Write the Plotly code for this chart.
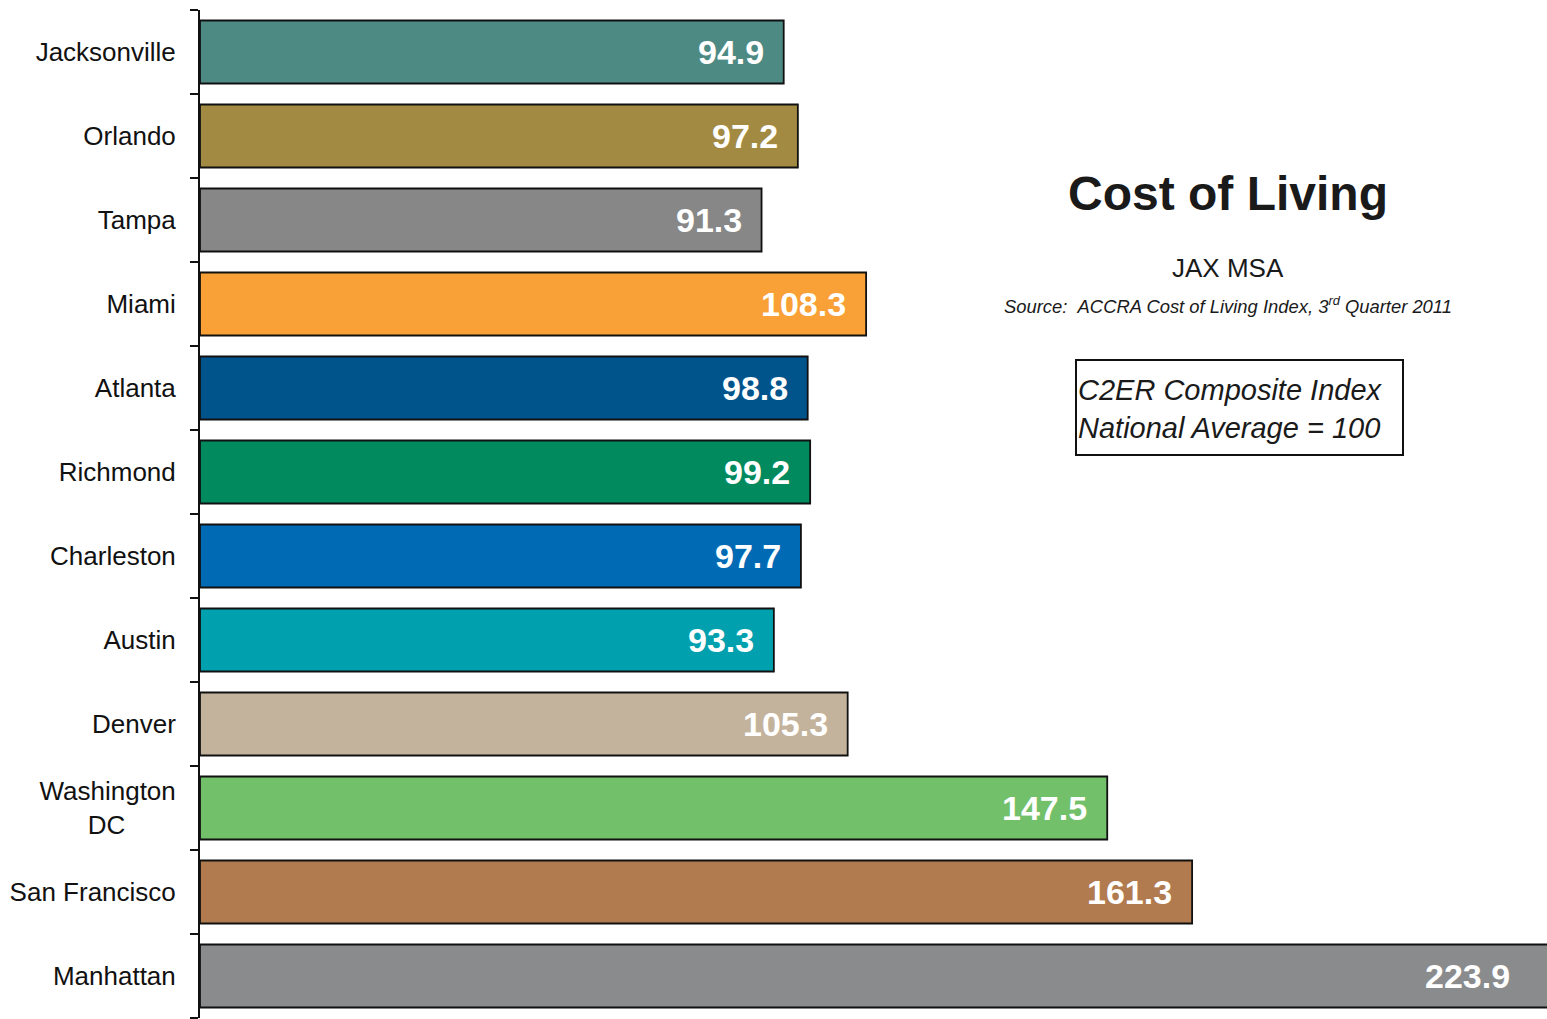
import plotly.graph_objects as go

cities = ["Jacksonville", "Orlando", "Tampa", "Miami", "Atlanta", "Richmond",
          "Charleston", "Austin", "Denver", "Washington DC", "San Francisco", "Manhattan"]
tick_labels = ["Jacksonville", "Orlando", "Tampa", "Miami", "Atlanta", "Richmond",
               "Charleston", "Austin", "Denver",
               "Washington<br>DC" + "\u00a0" * 7, "San Francisco", "Manhattan"]
values = [94.9, 97.2, 91.3, 108.3, 98.8, 99.2, 97.7, 93.3, 105.3, 147.5, 161.3, 223.9]
colors = ["#4E8A84", "#A38A42", "#878787", "#F9A036", "#00548C", "#008A5E",
          "#006BB4", "#00A0AF", "#C4B39C", "#73C06A", "#B17A4F", "#8A8B8D"]

XMAX = 219.0
FONT = "Liberation Sans, Arial, sans-serif"

fig = go.Figure()
fig.add_trace(go.Bar(
    y=cities, x=values, orientation="h",
    marker=dict(color=colors, line=dict(color="#111111", width=1.8)),
    hoverinfo="skip",
))

annotations = []
for c, v in zip(cities, values):
    annotations.append(dict(
        x=min(v, XMAX - 0.01), y=c, xref="x", yref="y",
        text=f"<b>{v:.1f}</b>", showarrow=False,
        xanchor="right", yanchor="middle",
        xshift=-18 if v <= XMAX else -35,
        font=dict(family=FONT, size=34, color="white"),
    ))

def px_x(p):
    return (p - 200) / 1347.0

def px_y(p):
    return 1 - (p - 10) / 1008.0

annotations += [
    dict(x=px_x(1228), y=px_y(193), xref="paper", yref="paper", showarrow=False,
         text="<b>Cost of Living</b>", xanchor="center", yanchor="middle",
         font=dict(family=FONT, size=48, color="#1a1a1a")),
    dict(x=px_x(1228), y=px_y(268), xref="paper", yref="paper", showarrow=False,
         text="JAX MSA", xanchor="center", yanchor="middle",
         font=dict(family=FONT, size=26, color="#1a1a1a")),
    dict(x=px_x(1228), y=px_y(305), xref="paper", yref="paper", showarrow=False,
         text="<i>Source:\u00a0\u00a0ACCRA Cost of Living Index, 3<sup>rd</sup> Quarter 2011</i>",
         xanchor="center", yanchor="middle",
         font=dict(family=FONT, size=18.4, color="#1a1a1a")),
    dict(x=px_x(1076), y=px_y(409), xref="paper", yref="paper", showarrow=False,
         text="<i>C2ER Composite Index<br>National Average = 100</i>",
         xanchor="left", yanchor="middle", align="left",
         font=dict(family=FONT, size=29, color="#1a1a1a")),
]

fig.add_shape(type="rect", xref="paper", yref="paper",
              x0=px_x(1076), x1=px_x(1403), y0=px_y(455), y1=px_y(360),
              line=dict(color="#111111", width=2))

fig.update_layout(
    width=1547, height=1019,
    margin=dict(l=200, r=0, t=10, b=1),
    paper_bgcolor="white", plot_bgcolor="white",
    showlegend=False, bargap=0.25,
    annotations=annotations,
    font=dict(family=FONT, color="#111111"),
)
fig.update_xaxes(range=[0, XMAX], visible=False, showgrid=False, zeroline=False)
fig.update_yaxes(
    categoryorder="array", categoryarray=cities, autorange="reversed",
    tickmode="array", tickvals=cities, ticktext=tick_labels,
    tickson="boundaries", ticks="outside", ticklen=8, tickwidth=2, tickcolor="#111111",
    showline=True, linewidth=2, linecolor="#111111",
    showgrid=False, zeroline=False,
    tickfont=dict(family=FONT, size=26, color="#111111"),
    ticklabelstandoff=17,
)

fig.write_html(
    "out.html",
    config={"displayModeBar": False},
    post_script="document.body.style.margin='0';document.body.style.overflow='hidden';",
)
